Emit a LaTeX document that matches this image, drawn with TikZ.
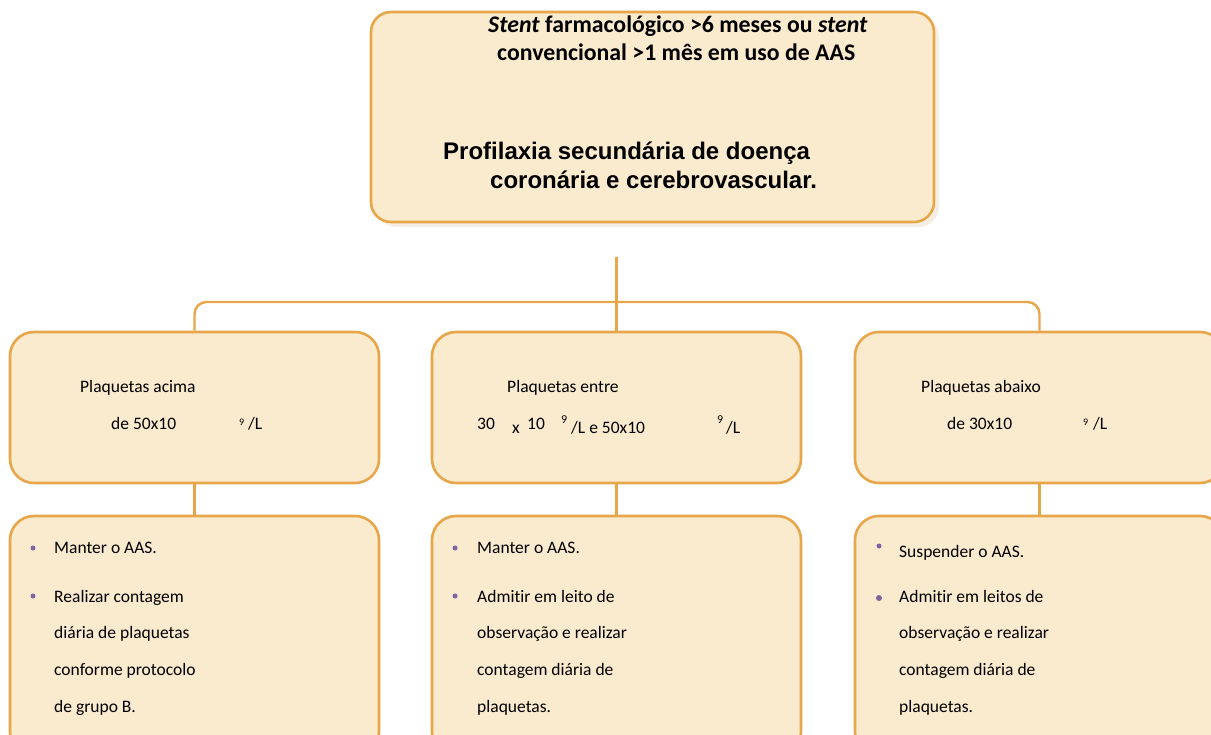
\documentclass[tikz,border=0pt]{standalone}
\usepackage{fontspec}
\newfontfamily\calib[Ligatures=NoCommon]{Carlito}
\newfontfamily\arialb{Liberation Sans}
\definecolor{boxfill}{HTML}{FAEACE}
\definecolor{boxline}{HTML}{E8A64A}
\definecolor{shadowc}{HTML}{F6EEE2}
\definecolor{bulletc}{HTML}{8064A2}
\tikzset{
  box/.style={draw=boxline, line width=2.6pt, fill=boxfill, rounded corners=24pt, inner sep=0pt},
  conn/.style={draw=boxline, line width=2.4pt},
  txt/.style={anchor=base west, inner sep=0pt, font=\calib\fontsize{17.5}{20}\selectfont},
  sup/.style={anchor=base west, inner sep=0pt, font=\calib\fontsize{10}{12}\selectfont},
  supc/.style={anchor=base west, inner sep=0pt, font=\calib\fontsize{12}{14}\selectfont},
  toptxt/.style={anchor=base west, inner sep=0pt, font=\calib\bfseries\fontsize{23.8}{27}\selectfont},
  arltxt/.style={anchor=base west, inner sep=0pt, font=\arialb\bfseries\fontsize{24}{28}\selectfont},
  bul/.style={circle, fill=bulletc, inner sep=0pt, minimum size=5pt}
}
\begin{document}
\begin{tikzpicture}[x=1pt,y=-1pt]
\useasboundingbox (0,0) rectangle (1211,735);
\clip (0,0) rectangle (1211,735);
\fill[white] (0,0) rectangle (1211,735);
% top box with soft shadow
\fill[shadowc, rounded corners=20pt] (376,17) rectangle (939,227);
\node[box, rounded corners=20pt, minimum width=563pt, minimum height=210pt] (top) at (652.5,117) {};
\node[toptxt] (t1) at (488,33) {\textit{Stent} farmacológico >6 meses ou \textit{stent}};
\node[toptxt] (t2) at (497,61) {convencional >1 mês em uso de AAS};
\node[arltxt] (t3) at (443,160) {Profilaxia secundária de doença};
\node[arltxt] (t4) at (490,189) {coronária e cerebrovascular.};
% middle boxes
\node[box, minimum width=369pt, minimum height=151pt] (m1) at (194.5,407.5) {};
\node[box, minimum width=369pt, minimum height=151pt] (m2) at (616.5,407.5) {};
\node[box, minimum width=369pt, minimum height=151pt] (m3) at (1039.5,407.5) {};
% bottom boxes
\node[box, minimum width=369pt, minimum height=240pt] (b1) at (194.5,636) {};
\node[box, minimum width=369pt, minimum height=240pt] (b2) at (616.5,636) {};
\node[box, minimum width=369pt, minimum height=240pt] (b3) at (1039.5,636) {};
% connectors
\coordinate (stem) at (616.5,257);
\coordinate (bar) at (616.5,302);
\draw[conn, rounded corners=12pt] (m1.north) |- (bar) -| (m3.north);
\draw[conn] (stem) -- (bar) -- (m2.north);
\draw[conn] (m1.south) -- (b1.north);
\draw[conn] (m2.south) -- (b2.north);
\draw[conn] (m3.south) -- (b3.north);
% middle texts
\node[txt] (l1) at (80,393) {Plaquetas acima};
\node[txt] (l2) at (111,429) {de 50x10};
\node[sup] (l3) at (239,425) {9};
\node[txt] (l4) at (248,429) {/L};
\node[txt] (c1) at (507,393) {Plaquetas entre};
\node[txt] (c2) at (477,429) {30};
\node[txt] (c3) at (512,433) {x};
\node[txt] (c4) at (527,429) {10};
\node[supc] (c5) at (561,424) {9};
\node[txt] (c6) at (571,433) {/L e 50x10};
\node[supc] (c7) at (717,424) {9};
\node[txt] (c8) at (726,433) {/L};
\node[txt] (r1) at (921,393) {Plaquetas abaixo};
\node[txt] (r2) at (947,429) {de 30x10};
\node[sup] (r3) at (1083,425) {9};
\node[txt] (r4) at (1093,429) {/L};
% bottom left
\node[bul] (bl1) at (33,548) {};
\node[bul] (bl2) at (33,596) {};
\node[txt] (bla) at (54,553) {Manter o AAS.};
\node[txt] (blb) at (54,602) {Realizar contagem};
\node[txt] (blc) at (54,638) {diária de plaquetas};
\node[txt] (bld) at (54,675) {conforme protocolo};
\node[txt] (ble) at (54,712) {de grupo B.};
% bottom center
\node[bul] (bc1) at (455,548) {};
\node[bul] (bc2) at (455,596) {};
\node[txt] (bca) at (477,553) {Manter o AAS.};
\node[txt] (bcb) at (477,602) {Admitir em leito de};
\node[txt] (bcc) at (477,638) {observação e realizar};
\node[txt] (bcd) at (477,675) {contagem diária de};
\node[txt] (bce) at (477,712) {plaquetas.};
% bottom right
\node[bul] (br1) at (879,546) {};
\node[bul, minimum size=6pt] (br2) at (879,598) {};
\node[txt] (bra) at (899,557) {Suspender o AAS.};
\node[txt] (brb) at (899,602) {Admitir em leitos de};
\node[txt] (brc) at (899,638) {observação e realizar};
\node[txt] (brd) at (899,675) {contagem diária de};
\node[txt] (bre) at (899,712) {plaquetas.};
\end{tikzpicture}
\end{document}
